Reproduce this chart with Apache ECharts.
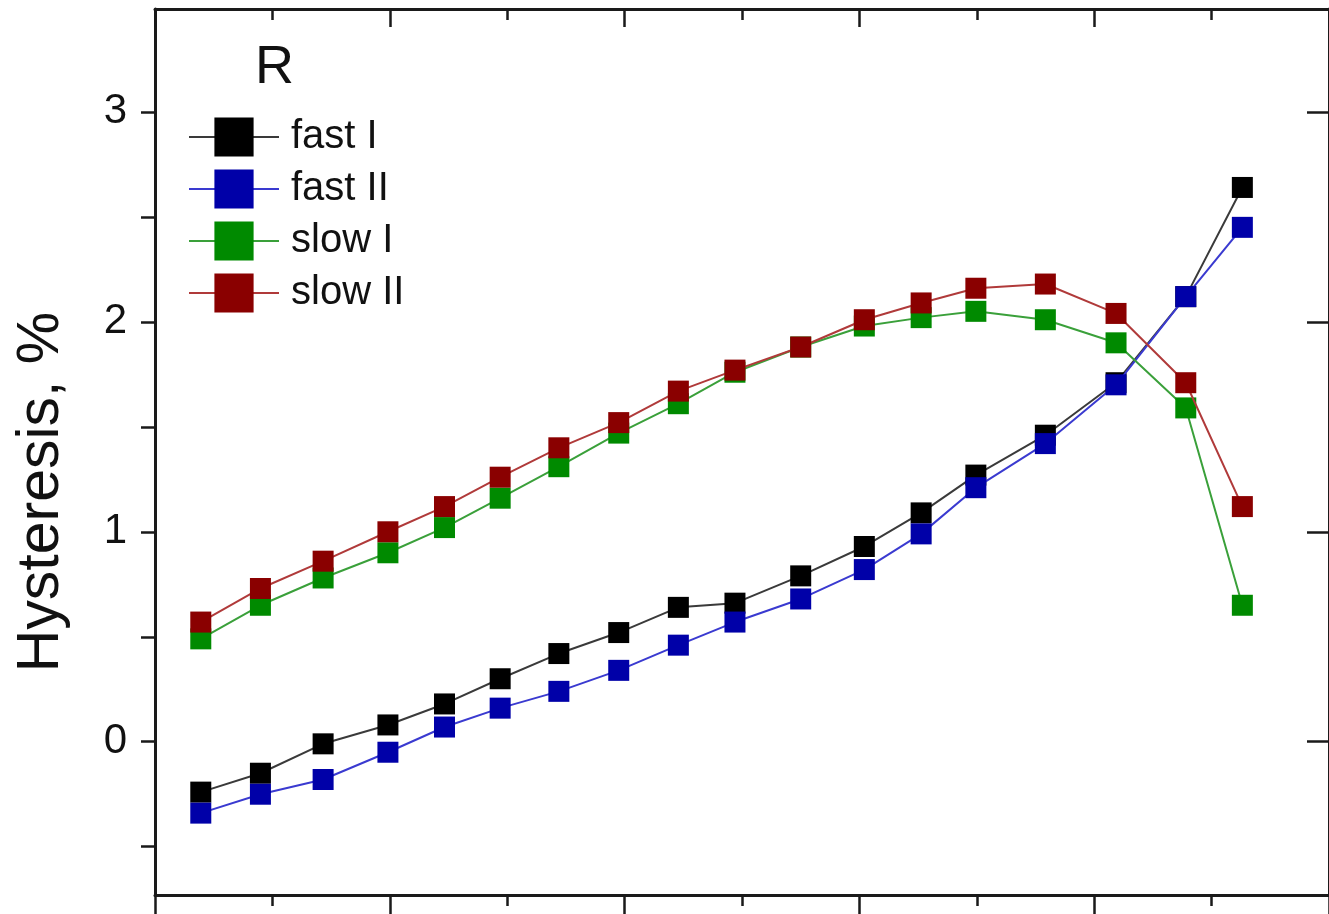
<!DOCTYPE html>
<html>
<head>
<meta charset="utf-8">
<script src="https://cdn.jsdelivr.net/npm/echarts@6/dist/echarts.min.js"></script>
<style>
html,body{margin:0;padding:0;background:#fff;}
#chart{width:1329px;height:914px;}
</style>
</head>
<body>
<div id="chart"></div>
<script>
// x positions (axis units, tick labels not visible in the cropped figure)
const xValues = [0.195, 0.449, 0.716, 0.992, 1.233, 1.470, 1.720, 1.975, 2.229, 2.470, 2.750, 3.021, 3.263, 3.496, 3.792, 4.093, 4.390, 4.631];
const fastI  = [-0.24, -0.15, -0.01, 0.08, 0.18, 0.30, 0.42, 0.52, 0.64, 0.66, 0.79, 0.93, 1.09, 1.27, 1.46, 1.71, 2.12, 2.64];
const fastII = [-0.34, -0.25, -0.18, -0.05, 0.07, 0.16, 0.24, 0.34, 0.46, 0.57, 0.68, 0.82, 0.99, 1.21, 1.42, 1.70, 2.12, 2.45];
const slowI  = [0.49, 0.65, 0.78, 0.90, 1.02, 1.16, 1.31, 1.47, 1.61, 1.76, 1.88, 1.98, 2.02, 2.05, 2.01, 1.90, 1.59, 0.65];
const slowII = [0.57, 0.73, 0.86, 1.00, 1.12, 1.26, 1.40, 1.52, 1.67, 1.77, 1.88, 2.01, 2.09, 2.16, 2.18, 2.04, 1.71, 1.12];
const seriesNames = ['fast I', 'fast II', 'slow I', 'slow II'];
const yLabelTicks = [0, 1, 2, 3];
const yMinorTicks = [-0.5, 0.5, 1.5, 2.5];
const yAllTicks = [-0.5, 0, 0.5, 1, 1.5, 2, 2.5, 3];
const panelLabel = 'R';
const yAxisName = 'Hysteresis, %';

const FONT = '"Liberation Sans", Arial, sans-serif';
const AX = '#1a1a1a';

function pairs(ys) { return xValues.map((x, i) => [x, ys[i]]); }

const styles = [
  { marker: '#000000', line: '#3a3a3a' },
  { marker: '#0000a8', line: '#3a3ad0' },
  { marker: '#008a00', line: '#3aa03a' },
  { marker: '#8a0000', line: '#b03a3a' }
];
const allData = [fastI, fastII, slowI, slowII];

const chart = echarts.init(document.getElementById('chart'), null, { renderer: 'canvas' });

const yMin = -0.73, yMax = 3.49;

chart.setOption({
  backgroundColor: '#ffffff',
  animation: false,
  title: {
    text: panelLabel,
    left: 250, top: 36,
    textStyle: { fontFamily: FONT, fontSize: 54, fontWeight: 'normal', color: '#111' }
  },
  legend: {
    data: seriesNames,
    orient: 'vertical',
    left: 188, top: 117, padding: 0,
    itemWidth: 90, itemHeight: 49, itemGap: 12,
    textStyle: { fontFamily: FONT, fontSize: 40, color: '#111', padding: [0, 0, 0, 7] }
  },
  grid: { left: 155, top: 9, width: 1180, height: 886, containLabel: false },
  xAxis: [
    {
      type: 'value', position: 'bottom', min: 0, max: 5, interval: 1,
      axisLine: { show: true, onZero: false, lineStyle: { color: AX, width: 3 } },
      axisTick: { show: true, inside: false, length: 22, lineStyle: { color: AX, width: 2.5 } },
      minorTick: { show: true, splitNumber: 2, length: 11, lineStyle: { color: AX, width: 2.5 } },
      axisLabel: { show: false },
      splitLine: { show: false }
    },
    {
      type: 'value', position: 'top', min: 0, max: 5, interval: 1,
      axisLine: { show: true, onZero: false, lineStyle: { color: AX, width: 3 } },
      axisTick: { show: true, inside: true, length: 18, lineStyle: { color: AX, width: 2.5 } },
      minorTick: { show: true, splitNumber: 2, length: 11, lineStyle: { color: AX, width: 2.5 } },
      axisLabel: { show: false },
      splitLine: { show: false }
    }
  ],
  yAxis: [
    {
      type: 'value', position: 'left', min: yMin, max: yMax,
      name: yAxisName, nameLocation: 'middle', nameGap: 84,
      nameTextStyle: { fontFamily: FONT, fontSize: 59, color: '#111', padding: [0, 80, 0, 0] },
      axisLine: { show: true, onZero: false, lineStyle: { color: AX, width: 3 } },
      axisTick: { show: true, inside: false, length: 14, customValues: yAllTicks, lineStyle: { color: AX, width: 2.5 } },
      axisLabel: { show: true, customValues: yLabelTicks, margin: 28, fontFamily: FONT, fontSize: 42, color: '#111' },
      splitLine: { show: false }
    },
    {
      type: 'value', position: 'right', min: yMin, max: yMax,
      axisLine: { show: true, onZero: false, lineStyle: { color: AX, width: 3 } },
      axisTick: { show: true, inside: true, length: 22, customValues: yLabelTicks, lineStyle: { color: AX, width: 2.5 } },
      axisLabel: { show: false },
      splitLine: { show: false }
    },
    {
      type: 'value', position: 'right', min: yMin, max: yMax,
      axisLine: { show: false },
      axisTick: { show: true, inside: true, length: 14, customValues: yMinorTicks, lineStyle: { color: AX, width: 2.5 } },
      axisLabel: { show: false },
      splitLine: { show: false }
    }
  ],
  series: seriesNames.map((name, i) => ({
    name: name,
    type: 'line',
    xAxisIndex: 0, yAxisIndex: 0,
    data: pairs(allData[i]),
    symbol: 'rect',
    symbolSize: 21,
    showAllSymbol: true,
    itemStyle: { color: styles[i].marker, borderWidth: 0 },
    lineStyle: { color: styles[i].line, width: 2 },
    emphasis: { disabled: true },
    z: 2 + i
  }))
});
</script>
</body>
</html>
